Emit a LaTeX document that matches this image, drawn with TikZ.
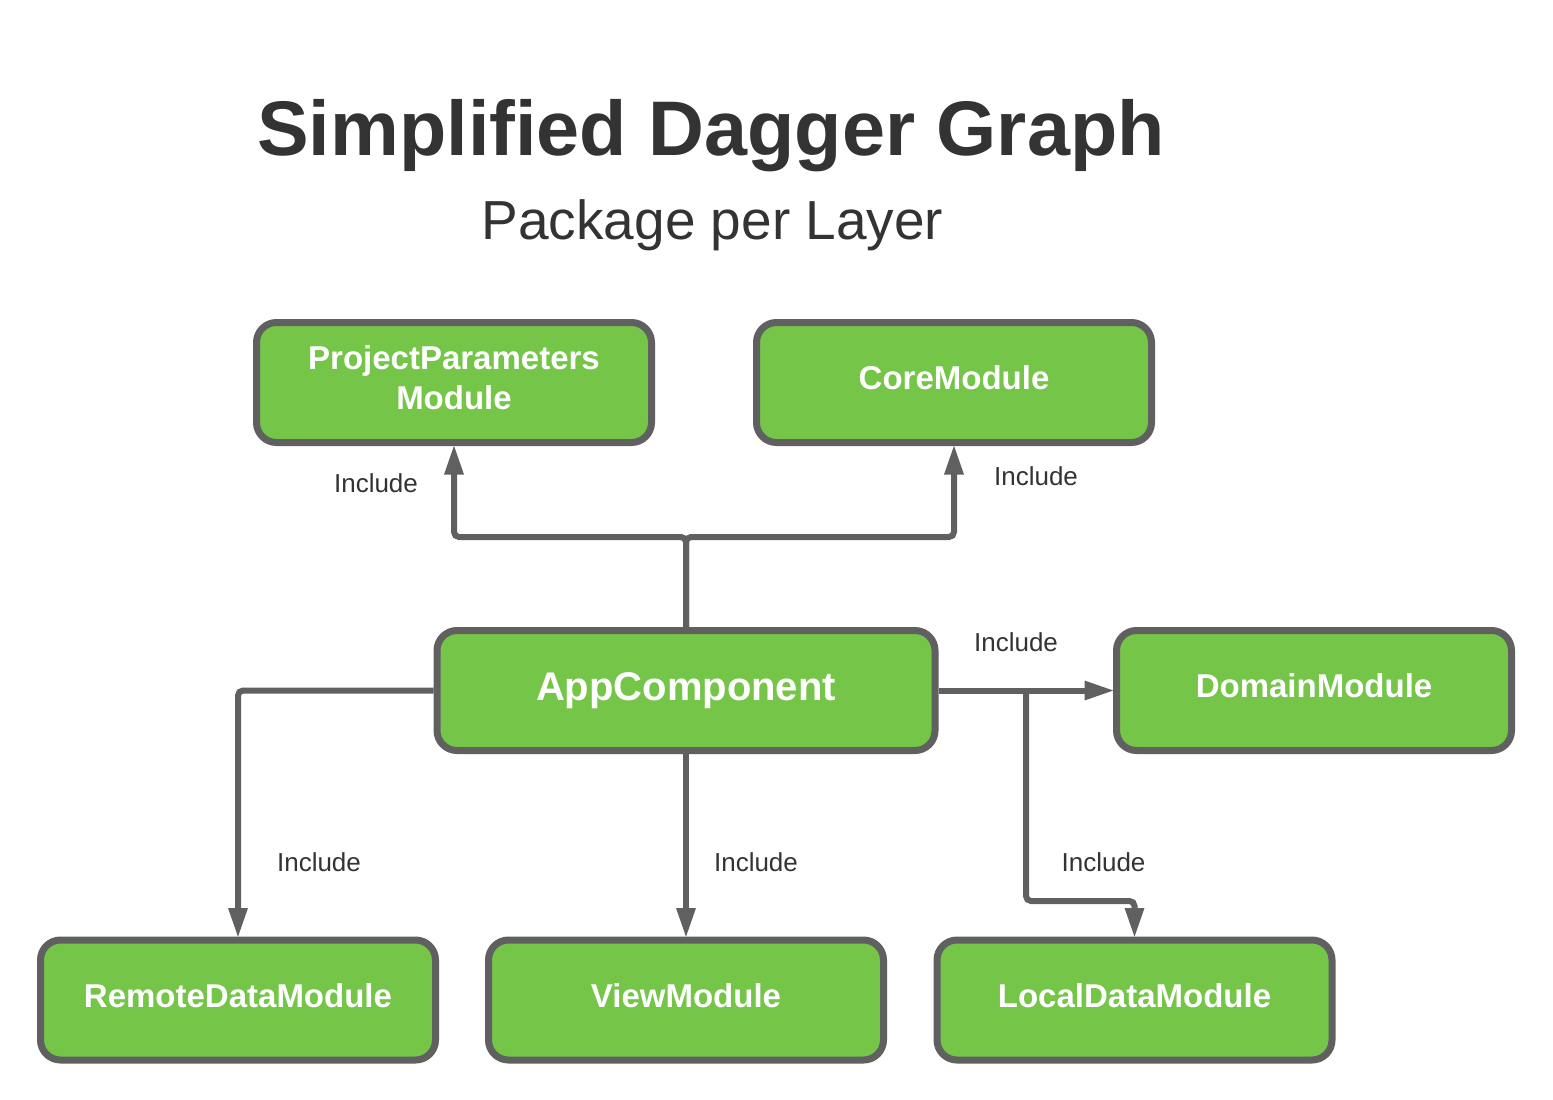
\documentclass[tikz,border=0pt]{standalone}
\usepackage{fontspec}
\setmainfont{Liberation Sans}
\usetikzlibrary{arrows.meta}
\definecolor{boxgreen}{RGB}{117,197,73}
\definecolor{edgegray}{RGB}{96,96,96}
\definecolor{txtgray}{RGB}{51,51,51}
\begin{document}
\begin{tikzpicture}[x=1pt,y=-1pt,
  modbox/.style={draw=edgegray, line width=7pt, fill=boxgreen, rounded corners=20pt,
    minimum width=395pt, minimum height=120pt, inner sep=0pt, text=white,
    font=\fontsize{33}{39.5}\selectfont\bfseries, align=center},
  lifted/.style={label={[text=white, font=\fontsize{33}{39.5}\selectfont\bfseries, align=center, yshift=-4.5pt]center:#1}},
  conn/.style={draw=edgegray, line width=6pt, rounded corners=5pt},
  tipped/.style={conn, -{Triangle[length=30pt,width=18pt]}, shorten >=-1.5pt},
  lbl/.style={text=txtgray, font=\fontsize{26}{30}\selectfont, inner sep=0pt}
]
\useasboundingbox (0,0) rectangle (1553,1100);
\fill[white] (0,0) rectangle (1553,1100);

\node[text=txtgray, anchor=base, inner sep=0pt, font=\fontsize{77.4}{90}\selectfont\bfseries] (title) at (711,155) {Simplified Dagger Graph};
\node[text=txtgray, anchor=base, inner sep=0pt, font=\fontsize{55}{62}\selectfont] (subtitle) at (712.5,239) {Package per Layer};

\node[modbox] (pp) at (454,382.5) {};
\node[modbox] (core) at (954,382.5) {};
\node[modbox, minimum width=498pt] (app) at (686,690.5) {};
\node[modbox] (dom) at (1314,690.5) {};
\node[modbox] (rdm) at (238,1000) {};
\node[modbox] (vm) at (686,1000) {};
\node[modbox] (ldm) at (1134.5,1000) {};

\node[text=white, align=center, inner sep=0pt, font=\fontsize{33}{39.5}\selectfont\bfseries] (tpp) at ([yshift=5pt]pp.center) {ProjectParameters\\Module};
\node[text=white, inner sep=0pt, font=\fontsize{33}{39.5}\selectfont\bfseries] (tcore) at ([yshift=4.5pt]core.center) {CoreModule};
\node[text=white, inner sep=0pt, font=\fontsize{40}{46}\selectfont\bfseries] (tapp) at (app.center) {AppComponent};
\node[text=white, inner sep=0pt, font=\fontsize{33}{39.5}\selectfont\bfseries] (tdom) at ([yshift=4.5pt]dom.center) {DomainModule};
\node[text=white, inner sep=0pt, font=\fontsize{33}{39.5}\selectfont\bfseries] (trdm) at ([yshift=4.5pt]rdm.center) {RemoteDataModule};
\node[text=white, inner sep=0pt, font=\fontsize{33}{39.5}\selectfont\bfseries] (tvm) at ([yshift=4.5pt]vm.center) {ViewModule};
\node[text=white, inner sep=0pt, font=\fontsize{33}{39.5}\selectfont\bfseries] (tldm) at ([yshift=4.5pt]ldm.center) {LocalDataModule};

\coordinate (jt) at (686,537);
\coordinate (jr) at (1026,690.5);
\coordinate (lb) at (1026,901);

\draw[tipped] (app.north) -- (jt) -| (pp.south);
\draw[tipped] (app.north) -- (jt) -| (core.south);
\draw[tipped] (app.west) -| (rdm.north);
\draw[tipped] (app.south) -- (vm.north);
\draw[tipped] (app.east) -- (dom.west);
\draw[tipped] (jr) -- (lb) -| (ldm.north);

\node[lbl] (l1) at (376,483) {Include};
\node[lbl] (l2) at (1036,476) {Include};
\node[lbl] (l3) at (1016,642.5) {Include};
\node[lbl] (l4) at (319,862.5) {Include};
\node[lbl] (l5) at (756,862.5) {Include};
\node[lbl] (l6) at (1103.5,862.5) {Include};
\end{tikzpicture}
\end{document}
